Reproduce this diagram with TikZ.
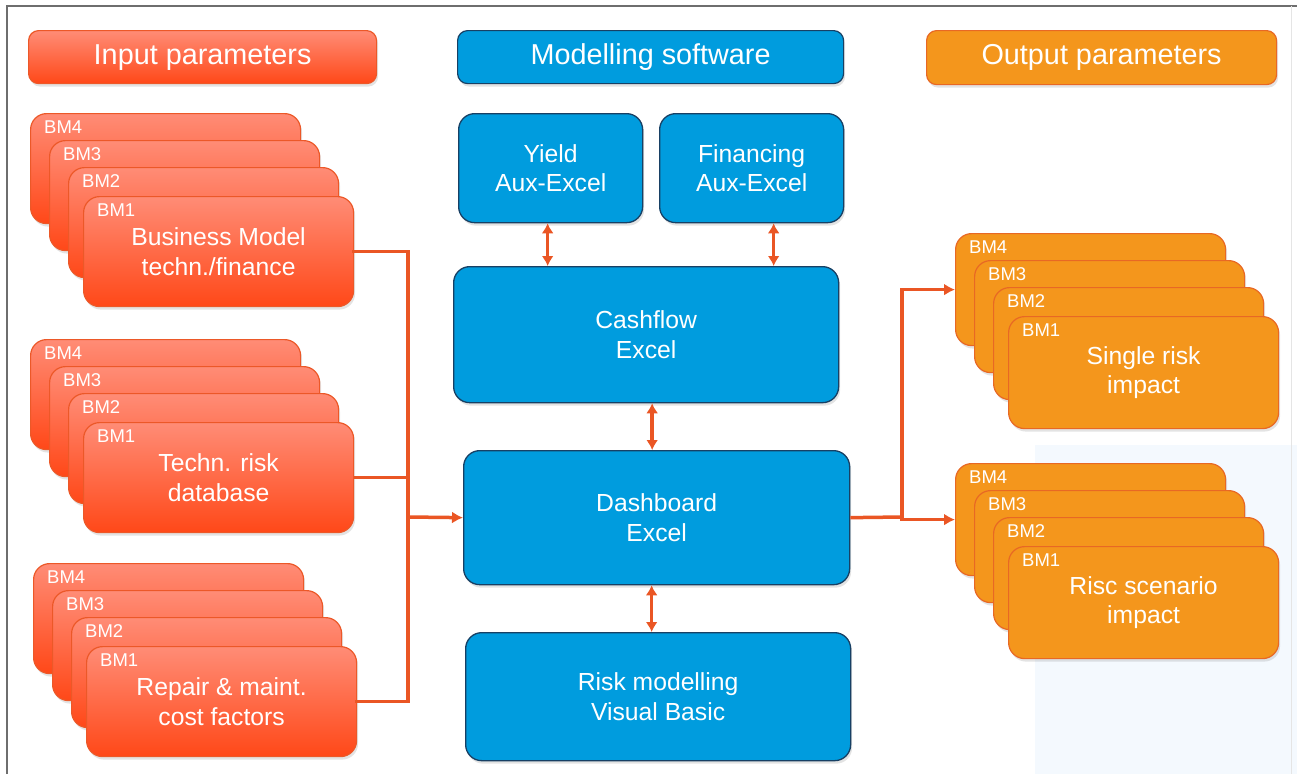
\documentclass[tikz,border=0pt]{standalone}
\usepackage{fontspec}
\setmainfont{Liberation Sans}
\usetikzlibrary{arrows.meta,shadows}
\definecolor{inTop}{RGB}{255,140,118}
\definecolor{inBot}{RGB}{255,72,24}
\definecolor{inEdge}{RGB}{236,88,40}
\definecolor{bluFill}{RGB}{0,156,222}
\definecolor{bluEdge}{RGB}{24,64,100}
\definecolor{orFill}{RGB}{244,150,28}
\definecolor{orEdge}{RGB}{232,104,36}
\definecolor{connCol}{RGB}{234,86,36}
\definecolor{frameGrey}{RGB}{110,110,110}
\definecolor{bgBlue}{RGB}{244,249,254}
\newcommand\bodyfont{\fontsize{24.7}{29.5}\selectfont}
\newcommand\hdrfont{\fontsize{28.8}{34}\selectfont}
\newcommand\bmfont{\fontsize{18.5}{20}\selectfont}
\tikzset{
  dshadow/.style={drop shadow={shadow xshift=1.5pt, shadow yshift=-3pt, opacity=0.22}},
  hdr/.style={rounded corners=10pt, line width=1.2pt, minimum height=53pt,
    anchor=north west, text=white, font=\hdrfont, inner sep=0pt, dshadow},
  inhdr/.style={hdr, draw=inEdge, top color=inTop, bottom color=inBot},
  bluhdr/.style={hdr, draw=bluEdge, fill=bluFill},
  orhdr/.style={hdr, draw=orEdge, fill=orFill},
  bluebox/.style={rounded corners=16pt, draw=bluEdge, line width=1.3pt, fill=bluFill,
    text=white, font=\bodyfont, align=center, anchor=north west, inner sep=0pt, dshadow},
  incard/.style={rounded corners=16pt, draw=inEdge, line width=1.2pt, top color=inTop,
    bottom color=inBot, minimum width=270pt, minimum height=110pt, anchor=north west,
    text=white, font=\bodyfont, align=center, inner sep=0pt, dshadow},
  outcard/.style={rounded corners=16pt, draw=orEdge, line width=1.2pt, fill=orFill,
    minimum width=270pt, minimum height=112pt, anchor=north west,
    text=white, font=\bodyfont, align=center, inner sep=0pt, dshadow},
  bmlab/.style={anchor=north west, inner sep=0pt, xshift=14pt, yshift=-7.5pt,
    text=white, font=\bmfont},
  conn/.style={draw=connCol, line width=3.5pt},
  tip/.style={-{Latex[length=11pt,width=12pt]}},
  dbl/.style={conn, {Latex[length=10pt,width=12pt]}-{Latex[length=10pt,width=12pt]}}
}
\newcommand\cardstack[5]{%
  \node[#2, label={[bmlab]north west:BM4}] (#1-4) at (#3,#4) {};
  \node[#2, label={[bmlab]north west:BM3}] (#1-3) at ({#3+19},{#4+27}) {};
  \node[#2, label={[bmlab]north west:BM2}] (#1-2) at ({#3+38},{#4+54}) {};
  \node[#2, label={[bmlab]north west:BM1}] (#1-1) at ({#3+53},{#4+83}) {#5};
}
\begin{document}
\begin{tikzpicture}[x=1pt,y=-1pt]
\useasboundingbox (0,0) rectangle (1297,774);
\fill[bgBlue] (1035,445) rectangle (1297,774);
\draw[frameGrey, line width=1.5pt] (7,774) -- (7,6) -- (1297,6);
\draw[black!10, line width=1pt] (1291,6) -- (1291,774);

% headers
\node[inhdr, minimum width=348pt] (hdrIn) at (28,30) {Input parameters};
\node[bluhdr, minimum width=386pt] (hdrMod) at (457,30) {Modelling software};
\node[orhdr, minimum width=350pt, minimum height=54pt] (hdrOut) at (926,30) {Output parameters};

% input stacks
\cardstack{in1}{incard}{30}{113}{Business Model\\techn./finance}
\cardstack{in2}{incard}{30}{339}{Techn. risk\\database}
\cardstack{in3}{incard}{33}{563}{Repair \& maint.\\cost factors}

% output stacks
\cardstack{out1}{outcard}{955}{233}{Single risk\\impact}
\cardstack{out2}{outcard}{955}{463}{Risc scenario\\impact}

% modelling software
\node[bluebox, minimum width=184pt, minimum height=109pt] (yield) at (458,113) {Yield\\Aux-Excel};
\node[bluebox, minimum width=184pt, minimum height=109pt] (fin) at (659,113) {Financing\\Aux-Excel};
\node[bluebox, minimum width=385pt, minimum height=136pt] (cash) at (453,266) {Cashflow\\Excel};
\node[bluebox, minimum width=386pt, minimum height=134pt] (dash) at (463,450) {Dashboard\\Excel};
\node[bluebox, minimum width=385pt, minimum height=128pt] (risk) at (465,632) {Risk modelling\\Visual Basic};

% connectors left
\coordinate (lj) at (408,517);
\draw[conn, line cap=rect] (in1-1.east) -- (in1-1.east -| lj) -- (in3-1.east -| lj) -- (in3-1.east);
\draw[conn] (in2-1.east) -- (in2-1.east -| lj);
\draw[conn, tip] (lj) -- (dash.west);

% connectors right
\coordinate (rj) at (902,517);
\draw[conn] (dash.east) -- (rj);
\draw[conn, tip] (rj) |- (out1-4.west);
\draw[conn, tip] (rj) |- (out2-4.west);

% vertical double arrows
\draw[dbl] ([xshift=-3pt]yield.south) -- ([xshift=-3pt]yield.south |- cash.north);
\draw[dbl] ([xshift=22pt]fin.south) -- ([xshift=22pt]fin.south |- cash.north);
\draw[dbl] ([xshift=6pt]cash.south) -- ([xshift=6pt]cash.south |- dash.north);
\draw[dbl] ([xshift=-5pt]dash.south) -- ([xshift=-5pt]dash.south |- risk.north);
\end{tikzpicture}
\end{document}
